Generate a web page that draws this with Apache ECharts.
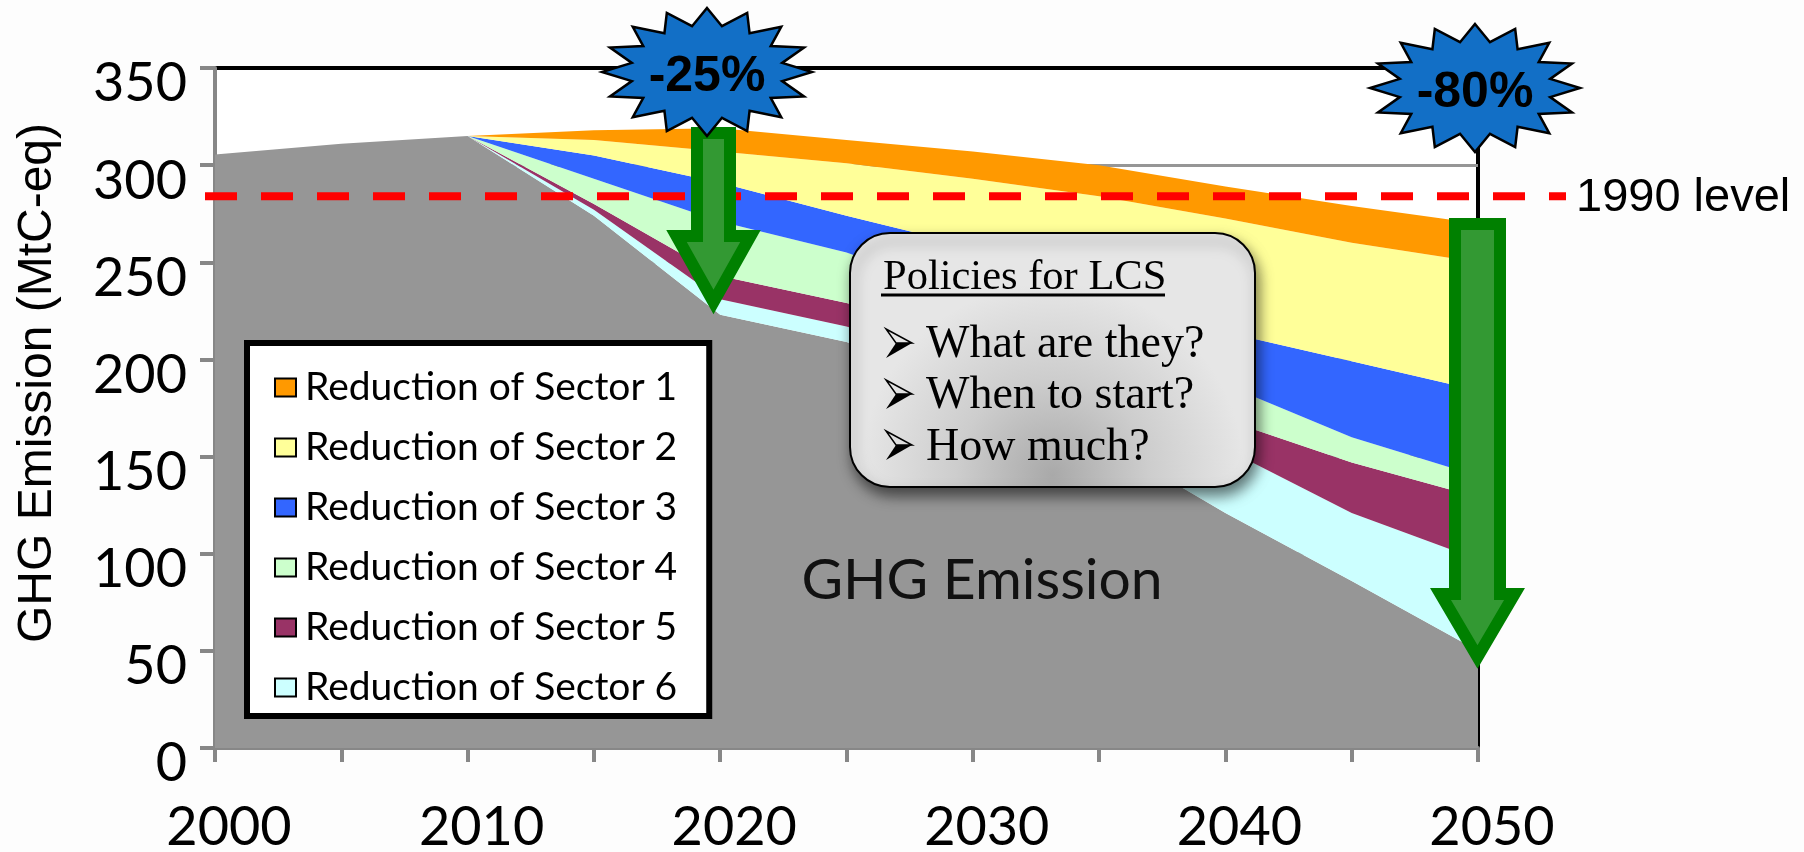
<!DOCTYPE html>
<html>
<head>
<meta charset="utf-8">
<title>GHG Emission</title>
<script src="https://cdn.jsdelivr.net/npm/echarts@6/dist/echarts.min.js"></script>
<style>
  html, body { margin: 0; padding: 0; background: #fdfdfd; }
  #chart { width: 1804px; height: 852px; }
</style>
</head>
<body>
<div id="chart"></div>
<script>
const years = ["2000", "2005", "2010", "2015", "2020", "2025", "2030", "2035", "2040", "2045", "2050"];
const ghgEmission = [305.5, 311, 315, 274, 223, 209, 185, 159, 121, 86, 50];
// reductions are stacked on top of the emission, bottom band first
const sector6 = [0, 0, 0, 3, 8, 8, 13, 18, 33, 35, 47];
const sector5 = [0, 0, 0, 3, 12, 12, 14, 15, 15, 26, 32];
const sector4 = [0, 0, 0, 13, 28, 26, 20, 18, 18, 13, 11];
const sector3 = [0, 0, 0, 12, 20, 19, 26, 26, 27, 39, 44];
const sector2 = [0, 0, 0, 8, 16, 27, 35, 48, 58.5, 61, 66];
const sector1 = [0, 0, 0, 5, 12, 12, 14, 16, 16.5, 19, 20];
const level1990 = 284;

const chart = echarts.init(document.getElementById("chart"));

function area(name, data, color) {
  return {
    name: name,
    type: "line",
    stack: "total",
    data: data,
    symbol: "none",
    lineStyle: { width: 0 },
    itemStyle: { color: color },
    areaStyle: { color: color, opacity: 1 },
  };
}

chart.setOption({
  animation: false,
  backgroundColor: "#fdfdfd",
  grid: {
    show: true,
    outerBoundsMode: "none",
    left: 215,
    right: 326,
    top: 68,
    bottom: 104,
    backgroundColor: "#fff",
    borderColor: "#000",
    borderWidth: 4,
  },
  legend: {
    orient: "vertical",
    left: 247,
    top: 343,
    padding: [24, 32, 8, 27],
    itemGap: 19,
    itemWidth: 21,
    itemHeight: 18,
    icon: "rect",
    backgroundColor: "#fff",
    borderColor: "#000",
    borderWidth: 6,
    itemStyle: { borderColor: "#000", borderWidth: 2 },
    textStyle: { fontFamily: "Lato", fontSize: 39, lineHeight: 41, color: "#000", padding: [0, 0, 0, 4] },
    data: [
      "Reduction of Sector 1",
      "Reduction of Sector 2",
      "Reduction of Sector 3",
      "Reduction of Sector 4",
      "Reduction of Sector 5",
      "Reduction of Sector 6",
    ],
  },
  xAxis: {
    type: "category",
    data: years,
    boundaryGap: false,
    axisLine: { lineStyle: { color: "#878787", width: 4 } },
    axisTick: { alignWithLabel: true, interval: 0, length: 14, lineStyle: { color: "#878787", width: 4 } },
    axisLabel: { interval: 1, margin: 53, fontFamily: "Lato", fontSize: 54, color: "#000", padding: [0, 0, 0, 28] },
    splitLine: { show: false },
  },
  yAxis: {
    type: "value",
    min: 0,
    max: 350,
    interval: 50,
    axisLine: { show: true, lineStyle: { color: "#878787", width: 4 } },
    axisTick: { show: true, length: 15, lineStyle: { color: "#878787", width: 4 } },
    axisLabel: { margin: 28, fontFamily: "Lato", fontSize: 54, color: "#000", verticalAlign: "top", lineHeight: 32 },
    splitLine: { show: true, showMaxLine: false, lineStyle: { color: "#969696", width: 3 } },
  },
  series: [
    area("GHG Emission", ghgEmission, "#969696"),
    area("Reduction of Sector 6", sector6, "#ccffff"),
    area("Reduction of Sector 5", sector5, "#993366"),
    area("Reduction of Sector 4", sector4, "#ccffcc"),
    area("Reduction of Sector 3", sector3, "#3366ff"),
    area("Reduction of Sector 2", sector2, "#ffff99"),
    area("Reduction of Sector 1", sector1, "#ff9900"),
  ],
});

// overlays of the slide: badges, arrows, callout
function starPoints(cx, cy, rx, ry) {
  const pts = [];
  for (let i = 0; i < 32; i++) {
    const a = -Math.PI / 2 + (i * Math.PI) / 16;
    const r = i % 2 === 0 ? 1 : 0.73;
    pts.push([cx + rx * r * Math.cos(a), cy + ry * r * Math.sin(a)]);
  }
  return pts;
}

function star(cx, cy, label) {
  return [
    {
      type: "polygon",
      z: 12,
      shape: { points: starPoints(cx, cy, 105, 64) },
      style: { fill: "#126fc6", stroke: "#000", lineWidth: 2.5, lineJoin: "miter" },
    },
    {
      type: "text",
      z: 13,
      x: cx,
      y: cy + 5,
      style: { text: label, font: "bold 50px 'Liberation Sans'", fill: "#000", textAlign: "center", textVerticalAlign: "middle" },
    },
  ];
}

function arrow(x, top, headY, tip, shaft, head) {
  return {
    type: "polygon",
    z: 11,
    shape: {
      points: [
        [x - shaft, top],
        [x + shaft, top],
        [x + shaft, headY],
        [x + head, headY],
        [x, tip],
        [x - head, headY],
        [x - shaft, headY],
      ],
    },
    style: { fill: "#339933", stroke: "#008000", lineWidth: 12, lineJoin: "miter", miterLimit: 10 },
  };
}

// list bullet: arrowhead, outlined above and solid below
function bullet(y) {
  return [
    {
      type: "polygon",
      z: 15,
      shape: { points: [[886, y - 14], [912, y], [896, y]] },
      style: { fill: "none", stroke: "#000", lineWidth: 1.5 },
    },
    {
      type: "polygon",
      z: 15,
      shape: { points: [[912, y], [886, y + 15], [896, y]] },
      style: { fill: "#000" },
    },
  ];
}

function text(x, y, str, font) {
  return { type: "text", z: 15, x: x, y: y, style: { text: str, font: font, fill: "#000", textVerticalAlign: "bottom" } };
}

const redY = chart.convertToPixel({ yAxisIndex: 0 }, level1990);
const serif = "46px 'Liberation Serif'";

chart.setOption({
  graphic: [
    {
      type: "line",
      z: 10,
      shape: { x1: 205, y1: redY, x2: 1566, y2: redY },
      style: { stroke: "#ff0000", lineWidth: 8, lineDash: [32, 24] },
    },
    arrow(713.5, 133, 236, 302, 16.5, 37),
    arrow(1477.5, 224, 594, 657, 22.5, 37),
    ...star(707, 72, "-25%"),
    ...star(1475, 88, "-80%"),
    {
      type: "text",
      z: 15,
      x: 1576,
      y: redY + 2,
      style: { text: "1990 level", font: "47px 'Liberation Sans'", fill: "#000", textVerticalAlign: "middle" },
    },
    {
      type: "text",
      z: 15,
      x: 38,
      y: 383,
      rotation: Math.PI / 2,
      style: { text: "GHG Emission (MtC-eq)", font: "48px 'Liberation Sans'", fill: "#000", textAlign: "center", textVerticalAlign: "middle" },
    },
    {
      type: "text",
      z: 15,
      x: 982,
      y: 581,
      style: { text: "GHG Emission", font: "57px Lato", fill: "#111", textAlign: "center", textVerticalAlign: "middle" },
    },
    {
      type: "rect",
      z: 14,
      shape: { x: 850, y: 233, width: 405, height: 254, r: 40 },
      style: {
        fill: {
          type: "radial",
          x: 0.5,
          y: 0.95,
          r: 0.75,
          colorStops: [
            { offset: 0, color: "#a9a9a9" },
            { offset: 0.5, color: "#cdcdcd" },
            { offset: 1, color: "#e6e6e6" },
          ],
        },
        stroke: "#000",
        lineWidth: 2,
        shadowColor: "rgba(0,0,0,0.55)",
        shadowBlur: 14,
        shadowOffsetX: 3,
        shadowOffsetY: 8,
      },
    },
    text(883, 299, "Policies for LCS", "42.5px 'Liberation Serif'"),
    {
      type: "line",
      z: 15,
      shape: { x1: 881, y1: 295, x2: 1165, y2: 295 },
      style: { stroke: "#000", lineWidth: 3 },
    },
    ...bullet(343),
    text(926, 368, "What are they?", serif),
    ...bullet(394),
    text(926, 419, "When to start?", serif),
    ...bullet(445),
    text(926, 471, "How much?", serif),
  ],
});
</script>
</body>
</html>
